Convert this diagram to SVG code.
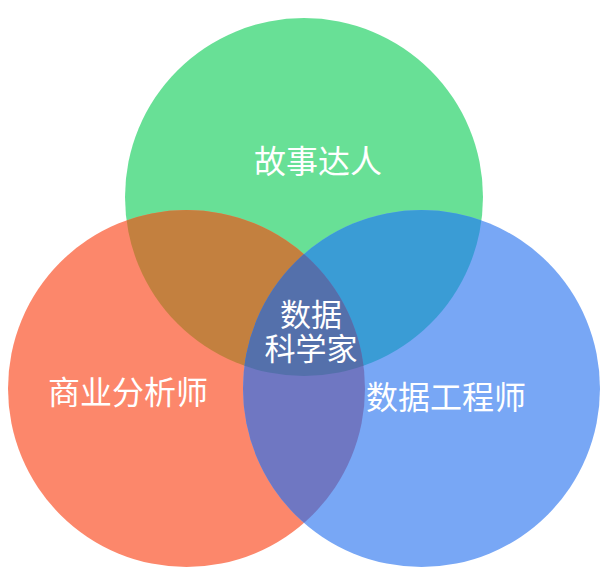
<svg xmlns="http://www.w3.org/2000/svg" width="607" height="587" viewBox="0 0 607 587">
<style>
.lbl{font-family:"Noto Sans CJK SC","Noto Sans",sans-serif;fill:#ffffff;text-anchor:middle;font-size:32px}
.c{font-size:31px}
</style>
<defs>
<clipPath id="cg"><circle cx="304" cy="197" r="179"/></clipPath>
<clipPath id="cr"><circle cx="186.5" cy="388.5" r="178.5"/></clipPath>
<clipPath id="cb"><circle cx="421.5" cy="388.5" r="178.5"/></clipPath>
</defs>
<rect width="607" height="587" fill="#ffffff"/>
<g id="green"><circle cx="304" cy="197" r="179" fill="#68e096"/></g>
<g id="red"><circle cx="186.5" cy="388.5" r="178.5" fill="#fc876b"/></g>
<g id="blue"><circle cx="421.5" cy="388.5" r="178.5" fill="#78a7f5"/></g>
<g id="overlaps">
<g clip-path="url(#cg)"><circle cx="186.5" cy="388.5" r="178.5" fill="#c3803f"/></g>
<g clip-path="url(#cg)"><circle cx="421.5" cy="388.5" r="178.5" fill="#3a9cd5"/></g>
<g clip-path="url(#cr)"><circle cx="421.5" cy="388.5" r="178.5" fill="#6f77c2"/></g>
<g clip-path="url(#cg)"><g clip-path="url(#cr)"><circle cx="421.5" cy="388.5" r="178.5" fill="#5470ab"/></g></g>
</g>
<g id="labels">
<text class="lbl" x="318" y="173">故事达人</text>
<text class="lbl" x="128" y="404">商业分析师</text>
<text class="lbl" x="446" y="409">数据工程师</text>
<text class="lbl c" x="311" y="326">数据</text>
<text class="lbl c" x="311" y="360">科学家</text>
</g>
</svg>
